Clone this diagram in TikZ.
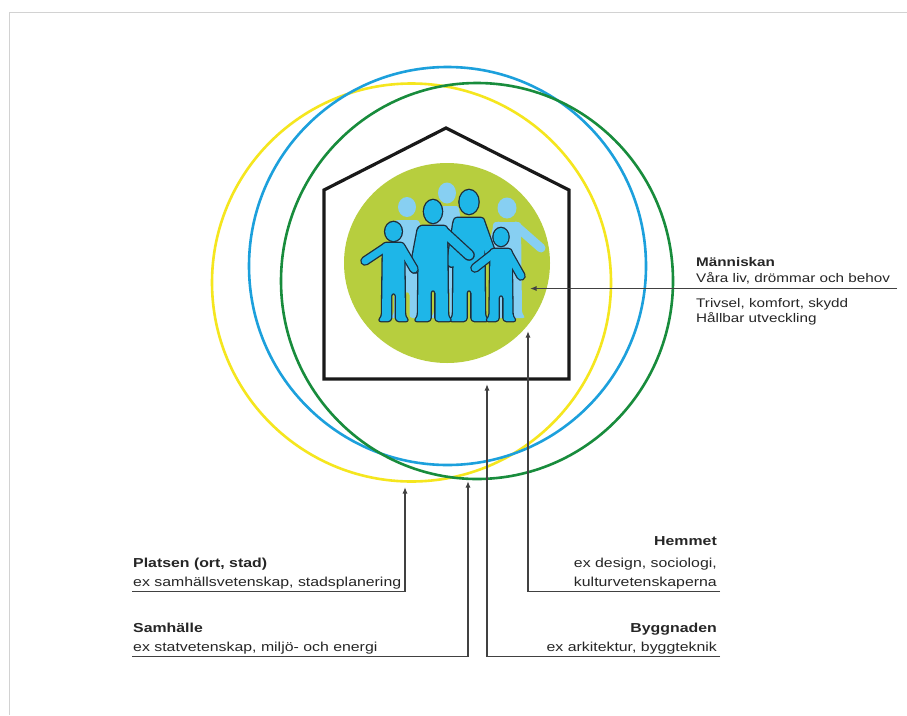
\documentclass[tikz,border=0pt]{standalone}
\usepackage{fontspec}
\setmainfont{Liberation Sans}[FakeStretch=1.22]
\usetikzlibrary{arrows.meta}
\definecolor{ycirc}{RGB}{245,230,30}
\definecolor{bcirc}{RGB}{28,160,220}
\definecolor{gcirc}{RGB}{24,140,60}
\definecolor{ball}{RGB}{183,206,62}
\definecolor{cy}{RGB}{30,182,232}
\definecolor{lb}{RGB}{135,207,242}
\definecolor{dk}{RGB}{30,45,60}
\definecolor{txt}{RGB}{38,38,38}
\definecolor{conn}{RGB}{65,65,65}
\definecolor{framec}{RGB}{210,210,210}
\tikzset{
  ring/.style={line width=2.6pt},
  house/.style={draw=black!90, line width=3.2pt, line join=miter},
  link/.style={draw=conn, line width=1.2pt, -{Latex[length=6.5pt,width=5pt]}},
  lab/.style={inner sep=0pt, text=txt, font=\fontsize{13}{15}\selectfont},
  mlab/.style={inner sep=0pt, text=txt, font=\fontsize{12.5}{15}\selectfont},
  figout/.style={draw=dk, fill=dk, line width=2.6pt, rounded corners=3pt, line join=round},
  figin/.style={fill=cy, rounded corners=3pt},
  armout/.style={draw=dk, line cap=round},
  armin/.style={draw=cy, line cap=round},
  figlight/.style={fill=lb, rounded corners=3pt},
  armlight/.style={draw=lb, line cap=round}
}
\def\figb{321}\def\figg{2.5}
\newcommand\figpoly[4]{(#1-#3,#2) -- (#1+#3,#2) -- (#1+#3+1,\figb-4) -- (#1+#3+5,\figb) -- (#1+\figg,\figb) -- (#1+\figg,#4) -- (#1-\figg,#4) -- (#1-\figg,\figb) -- (#1-#3-5,\figb) -- (#1-#3-1,\figb-4) -- cycle}
\newcommand\frontfig[9]{%
  \path[figout] (#1,#2) ellipse [x radius=#3pt, y radius=#4pt];
  \path[figout] \figpoly{#1}{#5}{#6}{#7};
  \draw[armout, line width=#8pt+2.6pt] #9;
  \path[figin] (#1,#2) ellipse [x radius=#3pt, y radius=#4pt];
  \path[figin] \figpoly{#1}{#5}{#6}{#7};
  \draw[armin, line width=#8pt] #9;
}
\newcommand\backfig[9]{%
  \path[figlight] (#1,#2) ellipse [x radius=#3pt, y radius=#4pt];
  \path[figlight] \figpoly{#1}{#5}{#6}{#7};
  \draw[armlight, line width=#8pt] #9;
}
\begin{document}
\begin{tikzpicture}[x=1pt,y=-1pt]
\useasboundingbox (0,0) rectangle (907,715);
\fill[white] (0,0) rectangle (907,715);
\draw[framec, line width=1.2pt] (907,12.5) -- (9.3,12.5) -- (9.3,715);
% rings
\draw[ring, ycirc] (411.5,282.5) ellipse [x radius=199.5pt, y radius=199pt];
\draw[ring, bcirc] (447.5,266) ellipse [x radius=198.5pt, y radius=199pt];
\draw[ring, gcirc] (477,281) ellipse [x radius=196pt, y radius=198pt];
% house and ball
\draw[house] (324,379) -- (324,190) -- (446,128) -- (569,190) -- (569,379) -- cycle;
\fill[ball] (447,263) ellipse [x radius=103pt, y radius=100pt];
% back figures
\def\figb{318}
\backfig{407}{207}{9}{10}{220}{12}{292}{8}{(398,224)--(392,258) (416,224)--(422,258)}
\backfig{447}{193}{9}{10.5}{206}{12}{290}{8}{(439,210)--(432,245) (455,210)--(462,245)}
\backfig{507}{208}{9.5}{10.5}{222}{14}{292}{9}{(498,226)--(490,258) (516,226)--(541,248)}
% front figures
\def\figb{321}
\frontfig{469}{202}{9.5}{12}{218}{15}{290}{9.5}{(458,224)--(452,262) (480,224)--(490,252)}
\frontfig{433}{211.5}{9}{11.5}{226}{14}{290}{9}{(422,231)--(415,268) (444,232)--(469,255)}
\frontfig{393.5}{231.5}{8.3}{9.5}{243}{10.5}{293}{7}{(386,247)--(365,261) (401,247)--(414,269)}
\frontfig{501}{237}{7.5}{9}{249}{10.5}{295}{7}{(494,253)--(475,268) (508,253)--(521,276)}
% Människan
\node[mlab, anchor=base west] (ma1) at (696,266) {\bfseries Människan};
\node[mlab, anchor=base west] (ma2) at (696,282) {Våra liv, drömmar och behov};
\node[mlab, anchor=base west] (ma3) at (696,307) {Trivsel, komfort, skydd};
\node[mlab, anchor=base west] (ma4) at (696,322.5) {Hållbar utveckling};
\coordinate (maS) at (897,288.5);
\coordinate (maT) at (530,288.5);
\draw[link] (maS) -- (maT);
% Platsen
\node[lab, anchor=base west] (pl1) at (133,567) {\bfseries Platsen (ort, stad)};
\node[lab, anchor=base west] (pl2) at (133,586) {ex samhällsvetenskap, stadsplanering};
\coordinate (plS) at (132,591.5);
\coordinate (plT) at (405,487);
\draw[link] (plS) -| (plT);
% Samhälle
\node[lab, anchor=base west] (sa1) at (133,632) {\bfseries Samhälle};
\node[lab, anchor=base west] (sa2) at (133,651.5) {ex statvetenskap, miljö- och energi};
\coordinate (saS) at (132,656.5);
\coordinate (saT) at (468,481);
\draw[link] (saS) -| (saT);
% Hemmet
\node[lab, anchor=base east] (he1) at (717,545.5) {\bfseries Hemmet};
\node[lab, anchor=base east] (he2) at (717,567) {ex design, sociologi,};
\node[lab, anchor=base east] (he3) at (717,586) {kulturvetenskaperna};
\coordinate (heS) at (720,591.5);
\coordinate (heT) at (528,331);
\draw[link] (heS) -| (heT);
% Byggnaden
\node[lab, anchor=base east] (by1) at (717,632) {\bfseries Byggnaden};
\node[lab, anchor=base east] (by2) at (717,651.5) {ex arkitektur, byggteknik};
\coordinate (byS) at (720,656.5);
\coordinate (byT) at (487,384);
\draw[link] (byS) -| (byT);
\end{tikzpicture}
\end{document}
